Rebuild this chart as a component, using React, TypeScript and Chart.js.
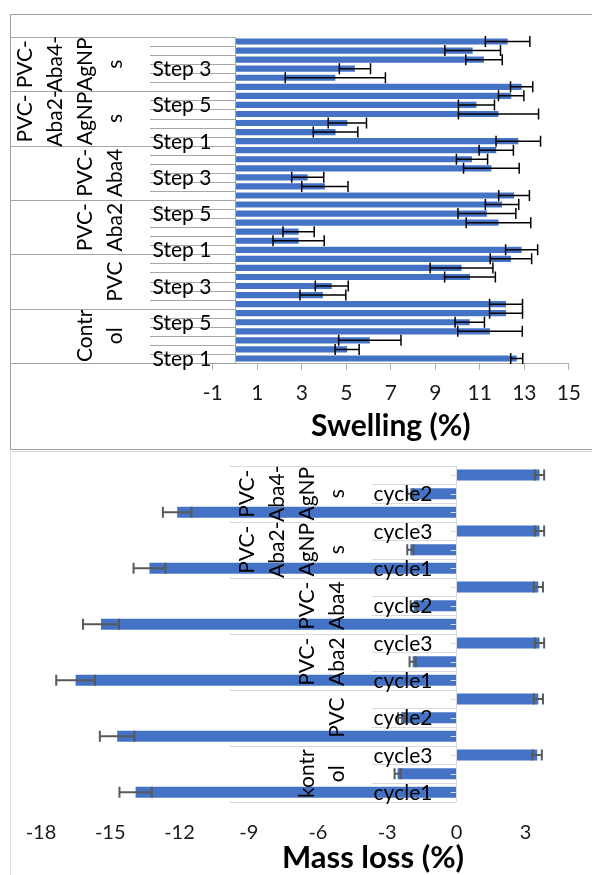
import React, { useEffect, useRef } from 'react';
import { Chart, registerables } from 'chart.js';

Chart.register(...registerables);

// ---------- Swelling data (Step 1 .. Step 6) ----------
const swellGroups = ['Control', 'PVC', 'PVC-Aba2', 'PVC-Aba4', 'PVC-Aba2-AgNPs', 'PVC-Aba4-AgNPs'];
const swellGroupLines = [['Contr', 'ol'], ['PVC'], ['PVC-', 'Aba2'], ['PVC-', 'Aba4'], ['PVC-', 'Aba2-', 'AgNP', 's'], ['PVC-', 'Aba4-', 'AgNP', 's']];
const steps = ['Step 1', 'Step 2', 'Step 3', 'Step 4', 'Step 5', 'Step 6'];
const swellControl = [12.66, 5.04, 6.06, 11.46, 10.55, 12.18];
const swellControlErr = [0.27, 0.54, 1.4, 1.45, 0.66, 0.74];
const swellPVC = [12.18, 3.95, 4.35, 10.56, 10.18, 12.4];
const swellPVCErr = [0.74, 1.03, 0.74, 1.14, 1.41, 0.93];
const swellAba2 = [12.88, 2.86, 2.86, 11.84, 11.32, 12.0];
const swellAba2Err = [0.72, 1.15, 0.7, 1.45, 1.3, 0.75];
const swellAba4 = [12.54, 4.04, 3.27, 11.52, 10.65, 11.74];
const swellAba4Err = [0.69, 1.04, 0.72, 1.25, 0.7, 0.77];
const swellAba2Ag = [12.73, 4.52, 5.05, 11.84, 10.85, 12.41];
const swellAba2AgErr = [1.0, 1.0, 0.86, 1.8, 0.81, 0.57];
const swellAba4Ag = [12.88, 4.51, 5.39, 11.19, 10.68, 12.25];
const swellAba4AgErr = [0.5, 2.25, 0.7, 0.82, 1.25, 1.0];
const swellTicks = [-1, 1, 3, 5, 7, 9, 11, 13, 15];

// ---------- Mass loss data (cycle1 .. cycle3) ----------
const massGroups = ['kontrol', 'PVC', 'PVC-Aba2', 'PVC-Aba4', 'PVC-Aba2-AgNPs', 'PVC-Aba4-AgNPs'];
const massGroupLines = [['kontr', 'ol'], ['PVC'], ['PVC-', 'Aba2'], ['PVC-', 'Aba4'], ['PVC-', 'Aba2-', 'AgNP', 's'], ['PVC-', 'Aba4-', 'AgNP', 's']];
const cycles = ['cycle1', 'cycle2', 'cycle3'];
const massKontrol = [-13.9, -2.55, 3.5];
const massKontrolErr = [0.7, 0.13, 0.2];
const massPVC = [-14.7, -2.4, 3.55];
const massPVCErr = [0.75, 0.13, 0.2];
const massAba2 = [-16.5, -1.9, 3.6];
const massAba2Err = [0.84, 0.13, 0.2];
const massAba4 = [-15.4, -1.85, 3.55];
const massAba4Err = [0.78, 0.13, 0.2];
const massAba2Ag = [-13.3, -2.0, 3.6];
const massAba2AgErr = [0.69, 0.13, 0.2];
const massAba4Ag = [-12.1, -2.0, 3.6];
const massAba4AgErr = [0.62, 0.13, 0.2];
const massTicks = [-18, -15, -12, -9, -6, -3, 0, 3];

const swellValues = [...swellControl, ...swellPVC, ...swellAba2, ...swellAba4, ...swellAba2Ag, ...swellAba4Ag];
const swellErrors = [...swellControlErr, ...swellPVCErr, ...swellAba2Err, ...swellAba4Err, ...swellAba2AgErr, ...swellAba4AgErr];
const swellLabels = swellGroups.flatMap((g) => steps.map((s) => g + ' ' + s));

const massValues = [...massKontrol, ...massPVC, ...massAba2, ...massAba4, ...massAba2Ag, ...massAba4Ag];
const massErrors = [...massKontrolErr, ...massPVCErr, ...massAba2Err, ...massAba4Err, ...massAba2AgErr, ...massAba4AgErr];
const massLabels = massGroups.flatMap((g) => cycles.map((c) => g + ' ' + c));

type Cfg = {
  groupLines: string[][];
  sub: string[];
  every: number;
  subX: number;
  innerStart: number;
  groupStart: number;
  lineColor: string;
  tickMarks: boolean;
  lastLineX: number;
  lineGap: number;
  fontSize: number;
  vals: number[];
  errs: number[];
  errColor: string;
  errWidth: number;
  cap: number;
  title: string;
  titleX: number | null;
  titleDy: number;
  titleSize: number;
};

function decor(cfg: Cfg) {
  return {
    id: 'decor',
    afterDatasetsDraw(chart: any) {
      const ctx: CanvasRenderingContext2D = chart.ctx;
      const xs = chart.scales.x;
      const ys = chart.scales.y;
      const a = chart.chartArea;
      const n = cfg.vals.length;
      const per = cfg.sub.length;
      const x0 = Math.round(xs.getPixelForValue(0)) + 0.5;
      ctx.save();
      // category box lines
      ctx.strokeStyle = cfg.lineColor;
      ctx.lineWidth = 1;
      ctx.beginPath();
      for (let i = 0; i <= n; i++) {
        const yb = Math.round(ys.getPixelForValue(i - 0.5)) + 0.5;
        const start = i % per === 0 ? cfg.groupStart : cfg.innerStart;
        ctx.moveTo(start, yb);
        ctx.lineTo(x0, yb);
      }
      ctx.moveTo(x0, a.top);
      ctx.lineTo(x0, a.bottom);
      if (cfg.tickMarks) {
        for (let i = 0; i < n; i++) {
          const yc = Math.round(ys.getPixelForValue(i)) + 0.5;
          ctx.moveTo(x0 - 6, yc);
          ctx.lineTo(x0, yc);
        }
      }
      ctx.stroke();
      // error bars
      const meta = chart.getDatasetMeta(0);
      ctx.strokeStyle = cfg.errColor;
      ctx.lineWidth = cfg.errWidth;
      ctx.beginPath();
      meta.data.forEach((el: any, i: number) => {
        const yc = el.y;
        const v = cfg.vals[i];
        const e = cfg.errs[i];
        const xa = xs.getPixelForValue(v - e);
        const xb = xs.getPixelForValue(v + e);
        ctx.moveTo(xa, yc);
        ctx.lineTo(xb, yc);
        ctx.moveTo(xa, yc - cfg.cap / 2);
        ctx.lineTo(xa, yc + cfg.cap / 2);
        ctx.moveTo(xb, yc - cfg.cap / 2);
        ctx.lineTo(xb, yc + cfg.cap / 2);
      });
      ctx.stroke();
      // inner labels
      const capH = cfg.fontSize * 0.72;
      ctx.fillStyle = '#000';
      ctx.font = cfg.fontSize + 'px Lato';
      ctx.textAlign = 'center';
      ctx.textBaseline = 'alphabetic';
      for (let i = 0; i < n; i += cfg.every) {
        const yc = ys.getPixelForValue(i);
        ctx.fillText(cfg.sub[i % per], cfg.subX, yc + capH / 2);
      }
      // group labels (rotated)
      cfg.groupLines.forEach((lines, g) => {
        const cy = (ys.getPixelForValue(g * per - 0.5) + ys.getPixelForValue(g * per + per - 0.5)) / 2;
        lines.forEach((ln, k) => {
          const cx = cfg.lastLineX - (lines.length - 1 - k) * cfg.lineGap;
          ctx.save();
          ctx.translate(cx, cy);
          ctx.rotate(-Math.PI / 2);
          ctx.fillText(ln, 0, capH / 2);
          ctx.restore();
        });
      });
      // axis title
      ctx.font = 'bold ' + cfg.titleSize + 'px Lato';
      ctx.textAlign = 'center';
      const tx = cfg.titleX !== null ? cfg.titleX : (a.left + a.right) / 2;
      ctx.fillText(cfg.title, tx, a.bottom + cfg.titleDy);
      ctx.restore();
    },
  };
}

export default function App() {
  const topRef = useRef<HTMLCanvasElement | null>(null);
  const botRef = useRef<HTMLCanvasElement | null>(null);

  useEffect(() => {
    const charts: Chart[] = [];
    if (topRef.current) {
      charts.push(
        new Chart(topRef.current, {
          type: 'bar',
          data: {
            labels: swellLabels,
            datasets: [
              {
                data: swellValues,
                backgroundColor: '#4472C4',
                barPercentage: 0.68,
                categoryPercentage: 1,
                borderWidth: 0,
              },
            ],
          },
          options: {
            indexAxis: 'y',
            responsive: false,
            animation: false,
            events: [],
            layout: { padding: { left: 212.7, right: 16.3, top: 37, bottom: 0 } },
            plugins: { legend: { display: false }, tooltip: { enabled: false }, title: { display: false } },
            scales: {
              x: {
                type: 'linear',
                min: -1,
                max: 15,
                afterBuildTicks: (s: any) => {
                  s.ticks = swellTicks.map((v) => ({ value: v }));
                },
                afterFit: (s: any) => {
                  s.height = 87;
                },
                grid: { display: true, drawOnChartArea: false, drawTicks: true, tickLength: 7, color: '#b0b0b0' },
                border: { display: true, color: '#b0b0b0' },
                ticks: { padding: 11, font: { family: 'Lato', size: 21 }, color: '#1a1a1a', maxRotation: 0, autoSkip: false },
              },
              y: { type: 'category', display: false, reverse: true, offset: true },
            },
          },
          plugins: [
            decor({
              groupLines: swellGroupLines,
              sub: steps,
              every: 4,
              subX: 182,
              innerStart: 150,
              groupStart: 10.5,
              lineColor: '#a6a6a6',
              tickMarks: false,
              lastLineX: 114,
              lineGap: 30,
              fontSize: 21,
              vals: swellValues,
              errs: swellErrors,
              errColor: '#000',
              errWidth: 1.5,
              cap: 11,
              title: 'Swelling (%)',
              titleX: null,
              titleDy: 72.7,
              titleSize: 30,
            }),
          ],
        } as any)
      );
    }
    if (botRef.current) {
      charts.push(
        new Chart(botRef.current, {
          type: 'bar',
          data: {
            labels: massLabels,
            datasets: [
              {
                data: massValues,
                backgroundColor: '#4472C4',
                barPercentage: 0.59,
                categoryPercentage: 1,
                borderWidth: 0,
              },
            ],
          },
          options: {
            indexAxis: 'y',
            responsive: false,
            animation: false,
            events: [],
            layout: { padding: { left: 41, right: 15.1, top: 15.7, bottom: 0 } },
            plugins: { legend: { display: false }, tooltip: { enabled: false }, title: { display: false } },
            scales: {
              x: {
                type: 'linear',
                min: -18,
                max: 6,
                afterBuildTicks: (s: any) => {
                  s.ticks = massTicks.map((v) => ({ value: v }));
                },
                afterFit: (s: any) => {
                  s.height = 73.3;
                },
                grid: { display: false, drawTicks: false },
                border: { display: false },
                ticks: { padding: 19.3, font: { family: 'Lato', size: 20 }, color: '#1a1a1a', maxRotation: 0, autoSkip: false },
              },
              y: { type: 'category', display: false, reverse: true, offset: true },
            },
          },
          plugins: [
            decor({
              groupLines: massGroupLines,
              sub: cycles,
              every: 2,
              subX: 403,
              innerStart: 372,
              groupStart: 230,
              lineColor: '#d9d9d9',
              tickMarks: true,
              lastLineX: 336,
              lineGap: 30,
              fontSize: 21,
              vals: massValues,
              errs: massErrors,
              errColor: '#595959',
              errWidth: 2,
              cap: 11,
              title: 'Mass loss (%)',
              titleX: 373,
              titleDy: 66.6,
              titleSize: 31,
            }),
          ],
        } as any)
      );
    }
    return () => {
      charts.forEach((c) => c.destroy());
    };
  }, []);

  return (
    <>
      <div
        style={{
          position: 'absolute',
          left: 10,
          top: 14,
          width: 582,
          height: 436,
          boxSizing: 'border-box',
          borderTop: '1px solid #a0a0a0',
          borderLeft: '1px solid #a0a0a0',
          borderBottom: '1px solid #a0a0a0',
        }}
      />
      <div
        style={{
          position: 'absolute',
          left: 10,
          top: 451,
          width: 582,
          height: 424,
          boxSizing: 'border-box',
          borderTop: '1px solid #d9d9d9',
          borderLeft: '1px solid #d9d9d9',
        }}
      />
      <canvas ref={topRef} width={592} height={450} style={{ position: 'absolute', left: 0, top: 0, display: 'block' }} />
      <div style={{ position: 'absolute', left: 0, top: 450, width: 592, height: 425, overflow: 'hidden' }}>
        <canvas ref={botRef} width={610} height={425} style={{ position: 'absolute', left: 0, top: 0, display: 'block' }} />
      </div>
    </>
  );
}
